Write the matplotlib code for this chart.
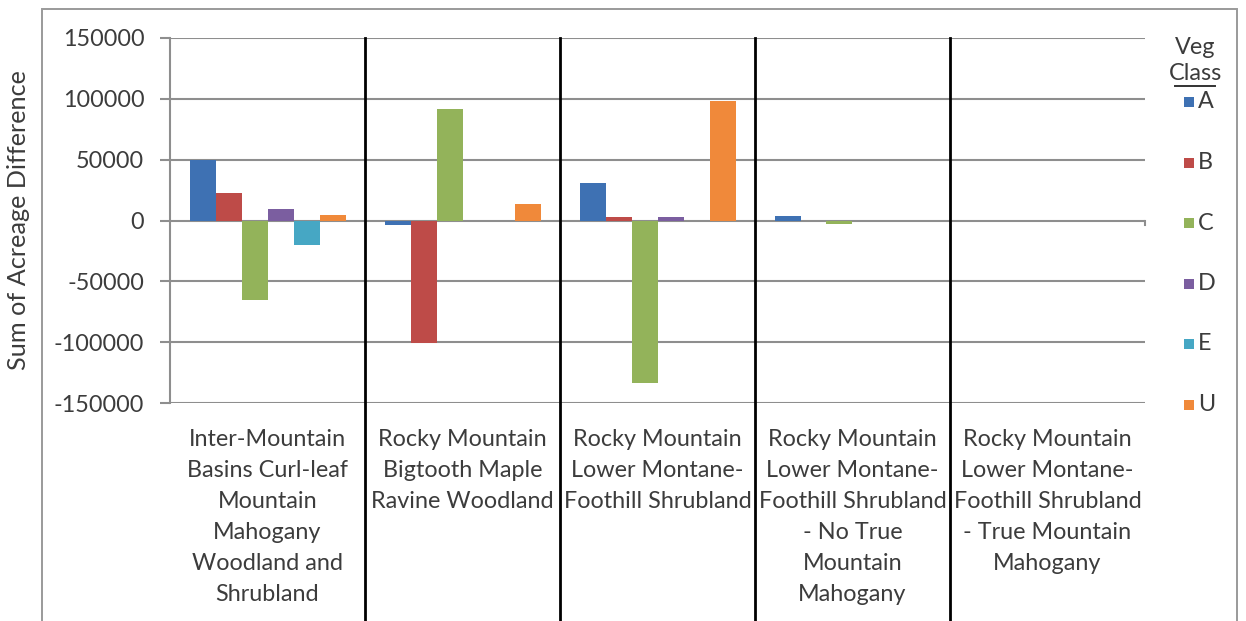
import matplotlib
matplotlib.use("Agg")
import matplotlib.pyplot as plt
import numpy as np
from matplotlib.patches import Rectangle
from matplotlib.lines import Line2D
import matplotlib.transforms as mtransforms

plt.rcParams['font.family'] = ['Lato', 'DejaVu Sans']

# ---- data -------------------------------------------------------------
categories = [
    "Inter-Mountain\nBasins Curl-leaf\nMountain\nMahogany\nWoodland and\nShrubland",
    "Rocky Mountain\nBigtooth Maple\nRavine Woodland",
    "Rocky Mountain\nLower Montane-\nFoothill Shrubland",
    "Rocky Mountain\nLower Montane-\nFoothill Shrubland\n- No True\nMountain\nMahogany",
    "Rocky Mountain\nLower Montane-\nFoothill Shrubland\n- True Mountain\nMahogany",
]
veg_classes = ["A", "B", "C", "D", "E", "U"]
class_a = [50000, -3500, 30500, 3500, 0]
class_b = [23000, -100500, 3000, 0, 0]
class_c = [-65000, 91500, -133500, -3000, 0]
class_d = [9500, 0, 2500, 0, 0]
class_e = [-20000, 0, 0, 0, 0]
class_u = [4700, 13500, 98500, 0, 0]
yticks = [-150000, -100000, -50000, 0, 50000, 100000, 150000]

series = [class_a, class_b, class_c, class_d, class_e, class_u]
colors = ["#3E71B3", "#BE4B48", "#93B35A", "#7B5EA0", "#46A7C4", "#F0893A"]

text_color = "#3c3c3c"
grid_color = "#8e8e8e"
fs = 16.8
W, H = 1246, 621

fig = plt.figure(figsize=(W / 100, H / 100), dpi=100)
fig.patch.set_facecolor("white")

# outer chart frame
fig.patches.append(Rectangle((42 / W, -0.05), (1237 - 42) / W, 1 - 9 / H + 0.05,
                             transform=fig.transFigure, fill=False,
                             edgecolor="#9a9a9a", lw=1.4))

ax = fig.add_axes([170 / W, 1 - 403 / H, (1145 - 170) / W, (403 - 38) / H])
ax.set_facecolor("none")

n = len(veg_classes)
group_w = 0.8
bar_w = group_w / n
x = np.arange(len(categories))
for i, (vals, col, name) in enumerate(zip(series, colors, veg_classes)):
    ax.bar(x + (i - (n - 1) / 2) * bar_w, vals, width=bar_w, color=col,
           label=name, zorder=3)

ax.set_xlim(-0.5, len(categories) - 0.5)
ax.set_ylim(-150000, 150000)
ax.set_yticks(yticks)
ax.set_yticklabels([str(v) for v in yticks])
ax.yaxis.grid(True, color=grid_color, lw=1.5, zorder=1)
ax.tick_params(axis="y", length=7, width=1.5, color=grid_color, pad=11.5,
               labelsize=fs, labelcolor=text_color)

for s in ["top", "right", "bottom"]:
    ax.spines[s].set_visible(False)
ax.spines["left"].set_color(grid_color)
ax.spines["left"].set_linewidth(1.5)

# small tick closing the category axis at its right end
ax.add_line(Line2D([len(categories) - 0.5] * 2, [0, -4000], color=grid_color,
                   lw=1.5, clip_on=False, zorder=2))

# category labels
ax.set_xticks(x)
ax.set_xticklabels(categories, linespacing=1.58)
ax.tick_params(axis="x", length=0, pad=19, labelsize=fs, labelcolor=text_color)

# black category dividers running through the label area
trans = mtransforms.blended_transform_factory(ax.transData, ax.transAxes)
for b in np.arange(0.5, len(categories) - 1, 1.0):
    ax.add_line(Line2D([b, b], [1.0, -0.7], transform=trans, color="black",
                       lw=2, clip_on=False, zorder=4))

fig.text(19 / W, 1 - 220 / H, "Sum of Acreage Difference", rotation=90,
         ha="center", va="center", fontsize=18.2, color=text_color)

# legend
lx = 1195 / W
fig.text(lx, 1 - 48 / H, "Veg", ha="center", va="center", fontsize=fs,
         color=text_color)
fig.text(lx, 1 - 74 / H, "Class", ha="center", va="center",
         fontsize=fs, color=text_color)
fig.add_artist(Line2D([1175 / W, 1215 / W], [1 - 86 / H, 1 - 86 / H],
                      transform=fig.transFigure, color="#333333", lw=1.4))
for i, (name, col) in enumerate(zip(veg_classes, colors)):
    yc = 102 + i * 60.5
    fig.patches.append(Rectangle((1184 / W, 1 - (yc + 5) / H), 10 / W, 10 / H,
                                 transform=fig.transFigure, facecolor=col,
                                 edgecolor="none"))
    fig.text(1198 / W, 1 - yc / H, name, ha="left", va="center",
             fontsize=fs, color=text_color)

fig.savefig("out.png", dpi=100)
